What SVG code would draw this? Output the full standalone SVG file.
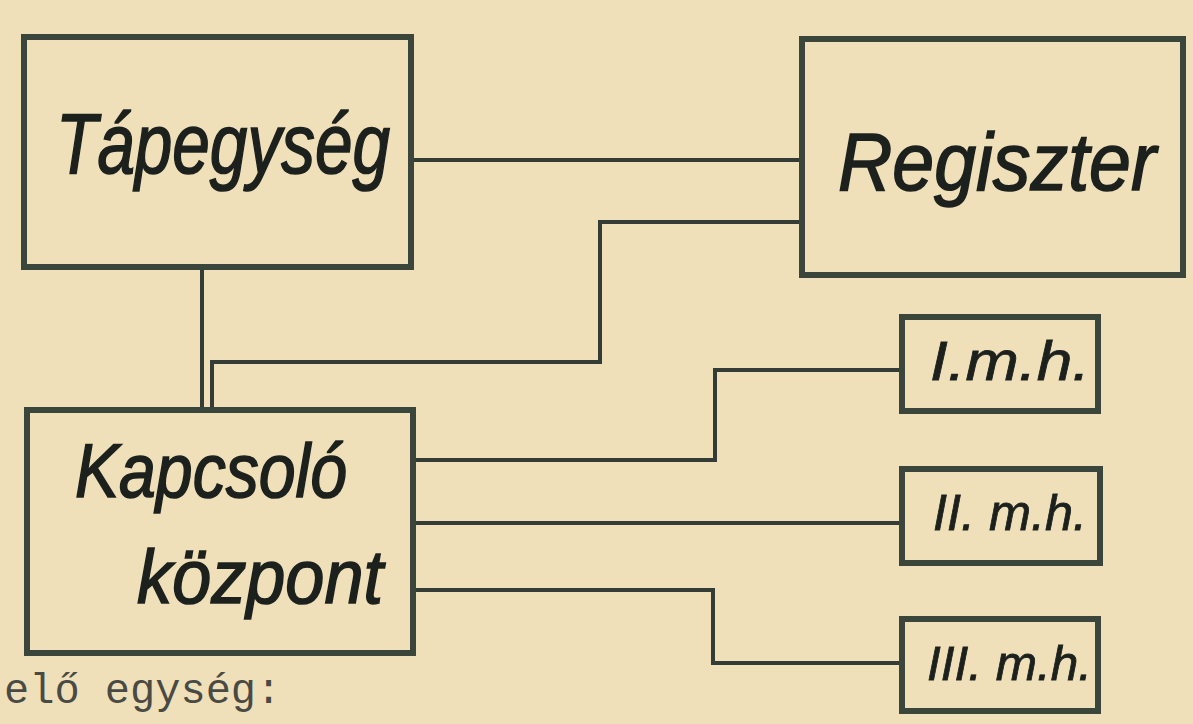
<svg xmlns="http://www.w3.org/2000/svg" width="1193" height="724" viewBox="0 0 1193 724">
  <style>
    .box { fill: none; stroke: #3a463c; stroke-width: 6; stroke-linejoin: miter; }
    .wire { fill: none; stroke: #333d35; stroke-width: 4; stroke-linejoin: miter; }
    .lbl { font-family: "Liberation Sans", "DejaVu Sans", sans-serif; font-style: italic; fill: #1c211d; stroke: #1c211d; stroke-width: 1.6; }
    .sm { stroke-width: 0.8; }
    .type { font-family: "Liberation Mono", "DejaVu Sans Mono", monospace; fill: #4a4a44; }
  </style>
  <rect x="0" y="0" width="1193" height="724" fill="#efe0ba"/>

  <g id="connectors">
    <path class="wire" d="M413 160 L800 160"/>
    <path class="wire" d="M800 222 L600 222 L600 362 L212 362 L212 410"/>
    <path class="wire" d="M202 268 L202 410"/>
    <path class="wire" d="M415 460 L715 460 L715 370 L902 370"/>
    <path class="wire" d="M415 523 L902 523"/>
    <path class="wire" d="M415 590 L713 590 L713 663 L902 663"/>
  </g>

  <g id="tapegyseg">
    <rect class="box" x="24" y="37" width="387" height="230"/>
    <text class="lbl" x="56" y="173" font-size="86" textLength="334" lengthAdjust="spacingAndGlyphs">Tápegység</text>
  </g>

  <g id="regiszter">
    <rect class="box" x="802" y="39" width="381" height="236"/>
    <text class="lbl" x="838" y="190" font-size="82" textLength="318" lengthAdjust="spacingAndGlyphs">Regiszter</text>
  </g>

  <g id="kapcsolo">
    <rect class="box" x="27" y="410" width="386" height="243"/>
    <text class="lbl" x="75" y="497" font-size="76" textLength="272" lengthAdjust="spacingAndGlyphs">Kapcsoló</text>
    <text class="lbl" x="137" y="603" font-size="76" textLength="246" lengthAdjust="spacingAndGlyphs">központ</text>
  </g>

  <g id="mh1">
    <rect class="box" x="902" y="317" width="196" height="94"/>
    <text class="lbl sm" x="930" y="380" font-size="56" textLength="160" lengthAdjust="spacingAndGlyphs">I.m.h.</text>
  </g>

  <g id="mh2">
    <rect class="box" x="902" y="469" width="198" height="94"/>
    <text class="lbl sm" x="933" y="530" font-size="50" textLength="154" lengthAdjust="spacingAndGlyphs">II. m.h.</text>
  </g>

  <g id="mh3">
    <rect class="box" x="902" y="619" width="196" height="92"/>
    <text class="lbl sm" x="927" y="680" font-size="48" textLength="165" lengthAdjust="spacingAndGlyphs">III. m.h.</text>
  </g>

  <text class="type" x="4" y="703" font-size="42">elő egység:</text>
</svg>
